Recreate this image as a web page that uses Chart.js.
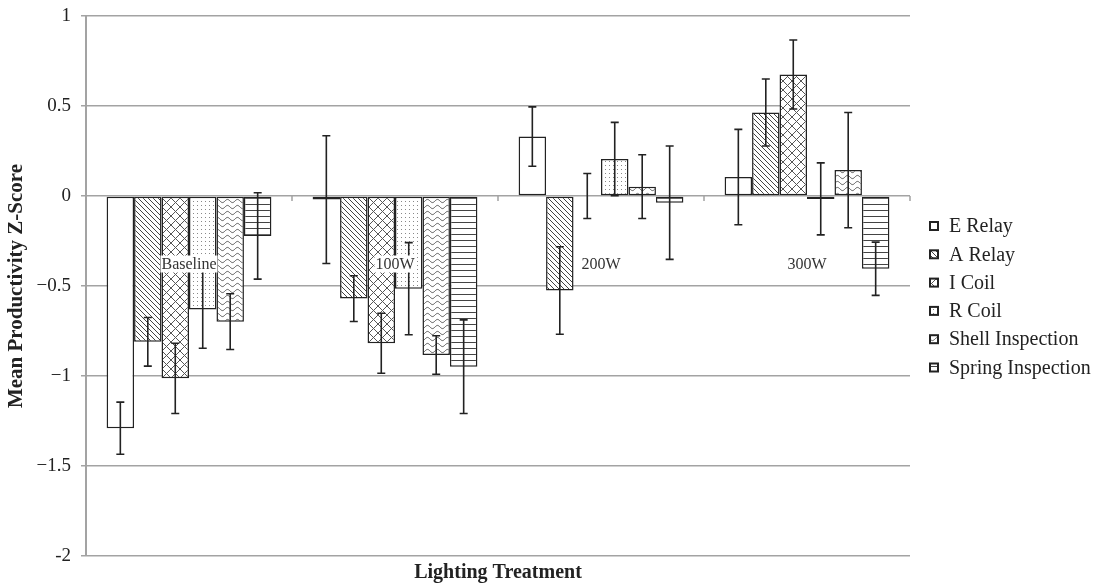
<!DOCTYPE html>
<html lang="en">
  <head>
    <meta charset="UTF-8" />
    <title>Mean Productivity Z-Score by Lighting Treatment</title>
    <script src="https://cdn.jsdelivr.net/npm/chart.js"></script>
    <style>
      html, body { margin: 0; padding: 0; background: #fff; }
      #wrap { width: 1103px; height: 587px; }
    </style>
  </head>
  <body>
    <div id="wrap"><canvas id="myChart" width="1103" height="587"></canvas></div>
    <script>
      const categories = ["Baseline", "100W", "200W", "300W"];

      const eRelay = [-1.29, -0.02, 0.33, 0.105];
      const eRelayErr = [0.145, 0.355, 0.165, 0.265];
      const aRelay = [-0.81, -0.57, -0.525, 0.464];
      const aRelayErr = [0.135, 0.127, 0.243, 0.186];
      const iCoil = [-1.013, -0.818, 0.0, 0.675];
      const iCoilErr = [0.195, 0.167, 0.125, 0.192];
      const rCoil = [-0.63, -0.515, 0.205, -0.016];
      const rCoilErr = [0.216, 0.256, 0.204, 0.2];
      const shellInsp = [-0.698, -0.883, 0.052, 0.144];
      const shellInspErr = [0.155, 0.107, 0.177, 0.32];
      const springInsp = [-0.222, -0.948, -0.037, -0.404];
      const springInspErr = [0.24, 0.26, 0.315, 0.148];

      const yTickValues = [1, 0.5, 0, -0.5, -1, -1.5, -2];
      const yTickLabels = ["1", "0.5", "0", "\u22120.5", "\u22121", "\u22121.5", "-2"];

      const serif = '"Liberation Serif", "Times New Roman", serif';
      const gridGray = "#a3a3a3";
      const ink = "#222";

      function makePattern(w, h, draw) {
        const c = document.createElement("canvas");
        c.width = w;
        c.height = h;
        const g = c.getContext("2d");
        g.fillStyle = "#fff";
        g.fillRect(0, 0, w, h);
        draw(g, w, h);
        return g.createPattern(c, "repeat");
      }

      const patterns = {
        plain: "#fff",
        hatch: makePattern(5, 5, (g, w, h) => {
          g.strokeStyle = "#444";
          g.lineWidth = 1;
          g.beginPath();
          [-w, 0, w].forEach((o) => {
            g.moveTo(o, 0);
            g.lineTo(o + w, h);
          });
          g.stroke();
        }),
        diamond: makePattern(9, 9, (g, w, h) => {
          g.strokeStyle = "#555";
          g.lineWidth = 1;
          g.beginPath();
          [-w, 0, w].forEach((o) => {
            g.moveTo(o, 0);
            g.lineTo(o + w, h);
            g.moveTo(o + w, 0);
            g.lineTo(o, h);
          });
          g.stroke();
        }),
        dots: makePattern(4, 4, (g) => {
          g.fillStyle = "#888";
          g.fillRect(1, 1, 1, 1);
        }),
        wave: makePattern(10, 6, (g, w) => {
          g.strokeStyle = "#555";
          g.lineWidth = 1;
          g.beginPath();
          for (let x = 0; x <= w; x += 0.5) {
            const y = 3 + 1.6 * Math.sin((2 * Math.PI * x) / w);
            if (x === 0) g.moveTo(x, y);
            else g.lineTo(x, y);
          }
          g.stroke();
        }),
        lines: makePattern(4, 6, (g, w) => {
          g.strokeStyle = "#444";
          g.lineWidth = 1;
          g.beginPath();
          g.moveTo(0, 0.5);
          g.lineTo(w, 0.5);
          g.stroke();
        }),
      };

      const series = [
        { label: "E Relay", data: eRelay, err: eRelayErr, fill: patterns.plain },
        { label: "A Relay", data: aRelay, err: aRelayErr, fill: patterns.hatch },
        { label: "I Coil", data: iCoil, err: iCoilErr, fill: patterns.diamond },
        { label: "R Coil", data: rCoil, err: rCoilErr, fill: patterns.dots },
        { label: "Shell Inspection", data: shellInsp, err: shellInspErr, fill: patterns.wave },
        { label: "Spring Inspection", data: springInsp, err: springInspErr, fill: patterns.lines },
      ];

      // small ticks on the zero line between categories
      const zeroTicks = {
        id: "zeroTicks",
        beforeDatasetsDraw(chart) {
          const { ctx, scales } = chart;
          const x = scales.x, y = scales.y;
          const y0 = y.getPixelForValue(0);
          ctx.save();
          ctx.strokeStyle = gridGray;
          ctx.lineWidth = 1.5;
          ctx.beginPath();
          for (let i = 0; i <= categories.length; i++) {
            const px = x.left + (i * (x.right - x.left)) / categories.length;
            ctx.moveTo(px, y0);
            ctx.lineTo(px, y0 + 5);
          }
          ctx.stroke();
          ctx.restore();
        },
      };

      const errorBars = {
        id: "errorBars",
        afterDatasetsDraw(chart) {
          const { ctx } = chart;
          const y = chart.scales.y;
          ctx.save();
          ctx.strokeStyle = ink;
          ctx.lineWidth = 1.6;
          chart.data.datasets.forEach((ds, i) => {
            chart.getDatasetMeta(i).data.forEach((bar, j) => {
              const v = ds.data[j];
              const e = ds.errors[j];
              const top = y.getPixelForValue(v + e);
              const bot = y.getPixelForValue(v - e);
              ctx.beginPath();
              ctx.moveTo(bar.x, top);
              ctx.lineTo(bar.x, bot);
              ctx.moveTo(bar.x - 4, top);
              ctx.lineTo(bar.x + 4, top);
              ctx.moveTo(bar.x - 4, bot);
              ctx.lineTo(bar.x + 4, bot);
              ctx.stroke();
            });
          });
          ctx.restore();
        },
      };

      const groupLabels = {
        id: "groupLabels",
        afterDatasetsDraw(chart) {
          const { ctx } = chart;
          const x = chart.scales.x, y = chart.scales.y;
          ctx.save();
          ctx.font = "16px " + serif;
          ctx.textAlign = "center";
          ctx.textBaseline = "middle";
          categories.forEach((c, i) => {
            const px = x.getPixelForValue(i);
            const py = y.getPixelForValue(-0.375);
            const w = ctx.measureText(c).width;
            if (i < 2) {
              ctx.fillStyle = "#fff";
              ctx.fillRect(px - w / 2 - 1, py - 8, w + 2, 17);
            }
            ctx.fillStyle = "#333";
            ctx.fillText(c, px, py + 1);
          });
          ctx.restore();
        },
      };

      const sideLegend = {
        id: "sideLegend",
        afterDraw(chart) {
          const { ctx } = chart;
          ctx.save();
          ctx.font = "20px " + serif;
          ctx.textBaseline = "middle";
          chart.data.datasets.forEach((ds, i) => {
            const cy = 226 + i * 28.3;
            ctx.fillStyle = ds.backgroundColor;
            ctx.fillRect(930, cy - 4, 8, 8);
            ctx.strokeStyle = ink;
            ctx.lineWidth = 2;
            ctx.strokeRect(930, cy - 4, 8, 8);
            ctx.fillStyle = ink;
            ctx.fillText(ds.label, 949, cy + 1);
          });
          ctx.restore();
        },
      };

      const chart = new Chart("myChart", {
        type: "bar",
        data: {
          labels: categories,
          datasets: series.map((s) => ({
            label: s.label,
            data: s.data,
            errors: s.err,
            backgroundColor: s.fill,
            borderColor: ink,
            borderWidth: 1.5,
            borderSkipped: false,
            categoryPercentage: 0.8,
            barPercentage: 1,
          })),
        },
        options: {
          responsive: false,
          animation: false,
          layout: { padding: { top: 16, right: 193, bottom: 0, left: 0 } },
          plugins: {
            legend: { display: false },
            tooltip: { enabled: false },
          },
          scales: {
            x: {
              grid: { display: false },
              border: { display: false },
              ticks: { display: false },
              title: {
                display: true,
                text: "Lighting Treatment",
                color: ink,
                font: { family: serif, size: 20, weight: "bold" },
                padding: { top: 0, bottom: 2 },
              },
              afterFit: (s) => { s.height = 31; },
            },
            y: {
              min: -2,
              max: 1,
              afterBuildTicks: (s) => {
                s.ticks = yTickValues.map((v) => ({ value: v }));
              },
              ticks: {
                color: ink,
                padding: 10,
                font: { family: serif, size: 19 },
                callback: (v) => yTickLabels[yTickValues.indexOf(v)],
              },
              grid: { color: gridGray, lineWidth: 1.5, tickLength: 5 },
              border: { color: gridGray, width: 2 },
              title: {
                display: true,
                text: "Mean Productivity Z-Score",
                color: ink,
                font: { family: serif, size: 21, weight: "bold" },
                padding: { top: 4, bottom: 0 },
              },
              afterFit: (s) => {
                s.width = 86;
                s.paddingTop = 0;
                s.paddingBottom = 0;
              },
            },
          },
        },
        plugins: [zeroTicks, errorBars, groupLabels, sideLegend],
      });
    </script>
  </body>
</html>
